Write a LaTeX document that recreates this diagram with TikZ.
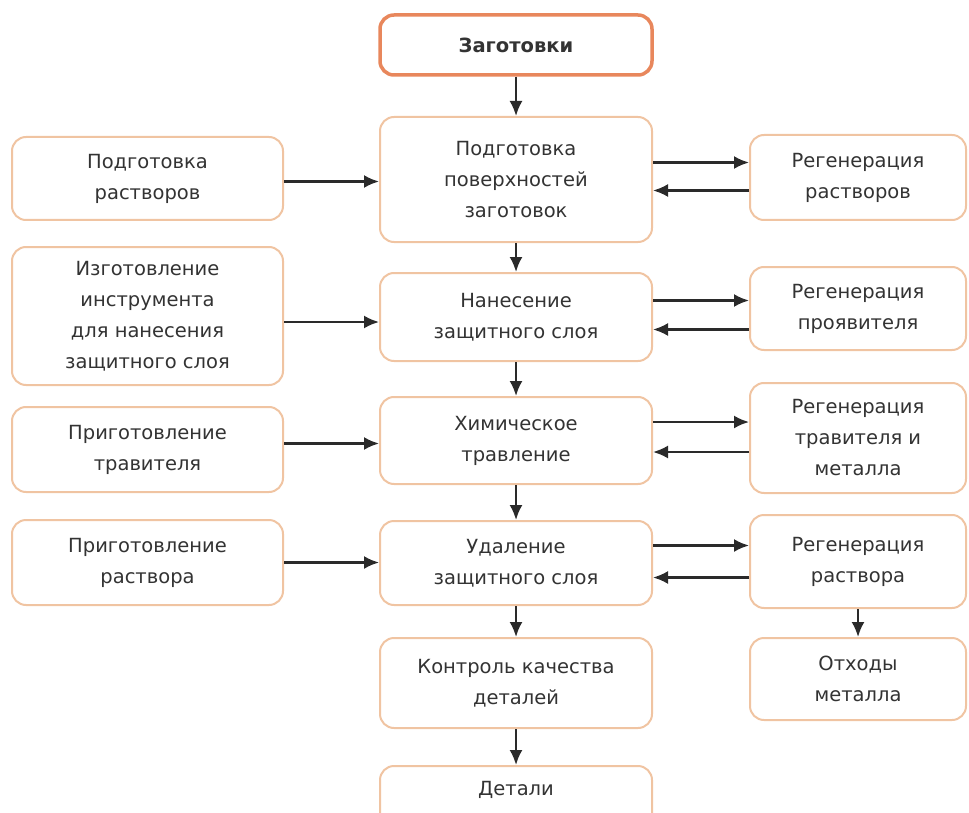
\documentclass[tikz,border=0pt]{standalone}
\usepackage{fontspec}
\setmainfont{DejaVu Sans}
\usetikzlibrary{arrows.meta}
\definecolor{bord}{HTML}{F0C4A2}
\definecolor{bordtop}{HTML}{E8875C}
\definecolor{txt}{HTML}{333333}
\definecolor{arr}{HTML}{2A2A2A}
\tikzset{
  box/.style={draw=bord, line width=2pt, rounded corners=14pt, fill=white,
    align=center, text=txt, inner sep=2pt,
    font=\fontsize{19.5}{31}\selectfont},
  topbox/.style={box, draw=bordtop, line width=3.5pt, font=\fontsize{19.5}{31}\selectfont\bfseries},
  link/.style={draw=arr, line width=2.2pt, -{Latex[length=15pt,width=13pt]}}
}
\begin{document}
\begin{tikzpicture}[x=1pt,y=-1pt]
\useasboundingbox (0,0) rectangle (969,813);
% centre column
\node[topbox, minimum width=272pt, minimum height=60pt] (zag) at (516,45) {Заготовки};
\node[box, minimum width=272pt, minimum height=125pt] (pod) at (516,179.5) {Подготовка\\поверхностей\\заготовок};
\node[box, minimum width=272pt, minimum height=88pt] (nan) at (516,317) {Нанесение\\защитного слоя};
\node[box, minimum width=272pt, minimum height=87pt] (him) at (516,440.5) {Химическое\\травление};
\node[box, minimum width=272pt, minimum height=84pt] (ud) at (516,563) {Удаление\\защитного слоя};
\node[box, minimum width=272pt, minimum height=90pt] (kon) at (516,683) {Контроль качества\\деталей};
\node[box, minimum width=272pt, minimum height=70pt, anchor=north] (det) at (516,765) {\raisebox{0pt}[14pt][26pt]{Детали}};
% left column
\node[box, minimum width=271pt, minimum height=83pt] (l1) at (147.5,178.5) {Подготовка\\растворов};
\node[box, minimum width=271pt, minimum height=138pt] (l2) at (147.5,316) {Изготовление\\инструмента\\для нанесения\\защитного слоя};
\node[box, minimum width=271pt, minimum height=85pt] (l3) at (147.5,449.5) {Приготовление\\травителя};
\node[box, minimum width=271pt, minimum height=85pt] (l4) at (147.5,562.5) {Приготовление\\раствора};
% right column
\node[box, minimum width=216pt, minimum height=85pt] (r1) at (858,177.5) {Регенерация\\растворов};
\node[box, minimum width=216pt, minimum height=83pt] (r2) at (858,308.5) {Регенерация\\проявителя};
\node[box, minimum width=216pt, minimum height=110pt] (r3) at (858,438) {Регенерация\\травителя и\\металла};
\node[box, minimum width=216pt, minimum height=93pt] (r4) at (858,561.5) {Регенерация\\раствора};
\node[box, minimum width=216pt, minimum height=82pt] (r5) at (858,679) {Отходы\\металла};
% vertical flow
\draw[link] (zag) -- (pod);
\draw[link] (pod) -- (nan);
\draw[link] (nan) -- (him);
\draw[link] (him) -- (ud);
\draw[link] (ud) -- (kon);
\draw[link] (kon) -- (det);
\draw[link] (r4) -- (r5);
% left inputs
\draw[link] ([yshift=-3pt]l1.east) -- ([yshift=-3pt]l1.east -| pod.west);
\draw[link] ([yshift=-6pt]l2.east) -- ([yshift=-6pt]l2.east -| nan.west);
\draw[link] ([yshift=6pt]l3.east) -- ([yshift=6pt]l3.east -| him.west);
\draw[link] (l4.east) -- (l4.east -| ud.west);
% right loops
\draw[link] ([yshift=15pt]r1.west -| pod.east) -- ([yshift=15pt]r1.west);
\draw[link] ([yshift=-13pt]r1.west) -- ([yshift=-13pt]r1.west -| pod.east);
\draw[link] ([yshift=8pt]r2.west -| nan.east) -- ([yshift=8pt]r2.west);
\draw[link] ([yshift=-21pt]r2.west) -- ([yshift=-21pt]r2.west -| nan.east);
\draw[link] ([yshift=16pt]r3.west -| him.east) -- ([yshift=16pt]r3.west);
\draw[link] ([yshift=-14pt]r3.west) -- ([yshift=-14pt]r3.west -| him.east);
\draw[link] ([yshift=16pt]r4.west -| ud.east) -- ([yshift=16pt]r4.west);
\draw[link] ([yshift=-16pt]r4.west) -- ([yshift=-16pt]r4.west -| ud.east);
\end{tikzpicture}
\end{document}
